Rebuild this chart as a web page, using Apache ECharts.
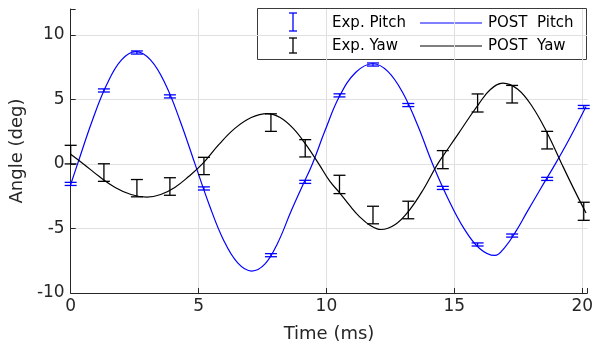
<!DOCTYPE html>
<html><head><meta charset="utf-8">
<script src="https://cdn.jsdelivr.net/npm/echarts@6/dist/echarts.min.js"></script>
<style>html,body{margin:0;padding:0;background:#fff}#c{width:596px;height:353px}</style>
</head><body><div id="c"></div>
<script>
// Experimental samples (time in ms)
const expTime     = [0, 1.30, 2.59, 3.88, 5.21, 7.83, 9.17, 10.51, 11.82, 13.20, 14.55, 15.91, 17.26, 18.63, 20.06];
const expPitch    = [-1.55, 5.69, 8.63, 5.23, -1.90, -7.07, -1.39, 5.31, 7.70, 4.56, -1.86, -6.24, -5.55, -1.16, 4.41];
const expPitchErr = [0.12, 0.12, 0.12, 0.12, 0.12, 0.12, 0.12, 0.12, 0.12, 0.12, 0.12, 0.12, 0.12, 0.12, 0.12];
const expYaw      = [0.72, -0.67, -1.88, -1.75, -0.16, 3.20, 1.21, -1.59, -3.96, -3.57, 0.33, 4.72, 5.40, 1.84, -3.67];
const expYawErr   = [0.72, 0.68, 0.67, 0.68, 0.67, 0.68, 0.67, 0.71, 0.68, 0.68, 0.70, 0.70, 0.68, 0.68, 0.70];

// POST model curves
const postPitchTime = [0, 0.27, 0.84, 1.41, 1.98, 2.55, 3.13, 3.71, 4.28, 4.86, 5.42, 5.97, 6.53, 7.08, 7.6, 8.1, 8.6, 9.05, 9.45, 9.95, 10.5, 11.15, 11.82, 12.4, 12.99, 13.57, 14.15, 14.76, 15.38, 15.99, 16.58, 17.0, 17.4, 17.85, 18.35, 18.95, 19.5, 20.15];
const postPitch     = [-1.6, 0, 3.33, 6.15, 8.04, 8.7, 8.04, 6.15, 3.33, 0, -3.18, -5.87, -7.67, -8.3, -7.75, -6.1, -3.75, -1.75, 0, 2.6, 5.2, 7.1, 7.76, 7.17, 5.49, 2.97, 0, -2.71, -5.01, -6.55, -7.09, -6.4, -5.25, -3.7, -2.0, 0, 1.95, 4.45];
const postYawTime   = [0, 0.5, 1.12, 1.74, 2.36, 2.98, 3.52, 4.07, 4.61, 5.15, 5.79, 6.42, 7.06, 7.69, 8.19, 8.7, 9.2, 9.7, 10.13, 10.5, 10.9, 11.3, 11.7, 12.13, 12.69, 13.24, 13.8, 14.35, 14.78, 15.16, 15.55, 15.94, 16.4, 16.9, 17.48, 18.05, 18.63, 19.2, 19.7, 20.15];
const postYaw       = [0.75, 0, -0.98, -1.82, -2.37, -2.57, -2.37, -1.82, -0.98, 0, 1.49, 2.75, 3.59, 3.89, 3.59, 2.75, 1.49, 0, -1.34, -2.2, -3.2, -4.1, -4.75, -5.08, -4.69, -3.59, -1.94, 0, 1.25, 2.35, 3.5, 4.6, 5.75, 6.26, 5.78, 4.43, 2.4, 0, -2.05, -3.8];

const xTicks = [0, 5, 10, 15, 20];
const yTicks = [-10, -5, 0, 5, 10];
const legendLabels = ['Exp. Pitch', 'POST  Pitch', 'Exp. Yaw', 'POST  Yaw'];

const BLUE = '#0000ff', BLACK = '#000000', AX = '#262626';
const FONT = 'DejaVu Sans';

function zip(a, b, c) { return a.map((v, i) => c ? [v, b[i], c[i]] : [v, b[i]]); }

function errRender(color) {
  return function (params, api) {
    const x = api.value(0), y = api.value(1), e = api.value(2);
    const t = api.coord([x, y + e]), b = api.coord([x, y - e]);
    const hw = 6;
    const style = { stroke: color, lineWidth: 1.3, fill: null };
    return { type: 'group', children: [
      { type: 'line', shape: { x1: t[0], y1: t[1], x2: b[0], y2: b[1] }, style },
      { type: 'line', shape: { x1: t[0] - hw, y1: t[1], x2: t[0] + hw, y2: t[1] }, style },
      { type: 'line', shape: { x1: b[0] - hw, y1: b[1], x2: b[0] + hw, y2: b[1] }, style }
    ]};
  };
}

const chart = echarts.init(document.getElementById('c'), null, { renderer: 'canvas' });

const axisCommon = {
  type: 'value',
  nameLocation: 'middle',
  nameTextStyle: { fontFamily: FONT, fontSize: 18, color: AX },
  axisLine: { show: true, onZero: false, lineStyle: { color: AX, width: 1 } },
  axisTick: { show: true, inside: true, length: 5, lineStyle: { color: AX } },
  axisLabel: { fontFamily: FONT, fontSize: 17, color: AX },
  splitLine: { show: true, showMaxLine: false, lineStyle: { color: '#e0e0e0', width: 1 } }
};

chart.setOption({
  animation: false,
  backgroundColor: '#fff',
  grid: { left: 68, right: 6, top: 9, bottom: 60, containLabel: false },
  xAxis: Object.assign({}, axisCommon, {
    name: 'Time (ms)', nameGap: 32,
    min: xTicks[0], max: 20.2, interval: 5,
    axisLabel: Object.assign({}, axisCommon.axisLabel, { margin: 5,
      formatter: v => (xTicks.indexOf(v) >= 0 ? String(v) : '') })
  }),
  yAxis: Object.assign({}, axisCommon, {
    name: 'Angle (deg)', nameGap: 35,
    min: yTicks[0], max: 12, interval: 5,
    axisLabel: Object.assign({}, axisCommon.axisLabel, { margin: 6,
      formatter: v => (yTicks.indexOf(v) >= 0 ? String(v) : '') })
  }),
  series: [
    { name: 'POST  Pitch', type: 'line', data: zip(postPitchTime, postPitch), smooth: 0.4,
      showSymbol: false, lineStyle: { color: BLUE, width: 1.2 }, z: 2 },
    { name: 'POST  Yaw', type: 'line', data: zip(postYawTime, postYaw), smooth: 0.4,
      showSymbol: false, lineStyle: { color: BLACK, width: 1.2 }, z: 2 },
    { name: 'Exp. Pitch', type: 'custom', data: zip(expTime, expPitch, expPitchErr),
      renderItem: errRender(BLUE), encode: { x: 0, y: 1 }, z: 3 },
    { name: 'Exp. Yaw', type: 'custom', data: zip(expTime, expYaw, expYawErr),
      renderItem: errRender(BLACK), encode: { x: 0, y: 1 }, z: 3 }
  ],
  graphic: [
    { type: 'group', left: 257, top: 8, z: 100, children: [
      { type: 'rect', shape: { x: 0.5, y: 0.5, width: 329, height: 51 },
        style: { fill: '#fff', stroke: '#3a3a3a', lineWidth: 1 } },
      // row 1
      { type: 'line', shape: { x1: 36, y1: 5, x2: 36, y2: 23 }, style: { stroke: BLUE, lineWidth: 1.3 } },
      { type: 'line', shape: { x1: 32, y1: 5, x2: 40, y2: 5 }, style: { stroke: BLUE, lineWidth: 1.3 } },
      { type: 'line', shape: { x1: 32, y1: 23, x2: 40, y2: 23 }, style: { stroke: BLUE, lineWidth: 1.3 } },
      { type: 'text', x: 75, y: 15, style: { text: legendLabels[0], fontFamily: FONT, fontSize: 15, fill: '#000', verticalAlign: 'middle' } },
      { type: 'line', shape: { x1: 163, y1: 15, x2: 225, y2: 15 }, style: { stroke: BLUE, lineWidth: 1.2 } },
      { type: 'text', x: 231, y: 15, style: { text: legendLabels[1], fontFamily: FONT, fontSize: 15, fill: '#000', verticalAlign: 'middle' } },
      // row 2
      { type: 'line', shape: { x1: 36, y1: 30, x2: 36, y2: 45 }, style: { stroke: BLACK, lineWidth: 1.3 } },
      { type: 'line', shape: { x1: 32, y1: 30, x2: 40, y2: 30 }, style: { stroke: BLACK, lineWidth: 1.3 } },
      { type: 'line', shape: { x1: 32, y1: 45, x2: 40, y2: 45 }, style: { stroke: BLACK, lineWidth: 1.3 } },
      { type: 'text', x: 75, y: 38, style: { text: legendLabels[2], fontFamily: FONT, fontSize: 15, fill: '#000', verticalAlign: 'middle' } },
      { type: 'line', shape: { x1: 163, y1: 38, x2: 225, y2: 38 }, style: { stroke: BLACK, lineWidth: 1.2 } },
      { type: 'text', x: 231, y: 38, style: { text: legendLabels[3], fontFamily: FONT, fontSize: 15, fill: '#000', verticalAlign: 'middle' } }
    ]}
  ]
});
</script>
</body></html>
